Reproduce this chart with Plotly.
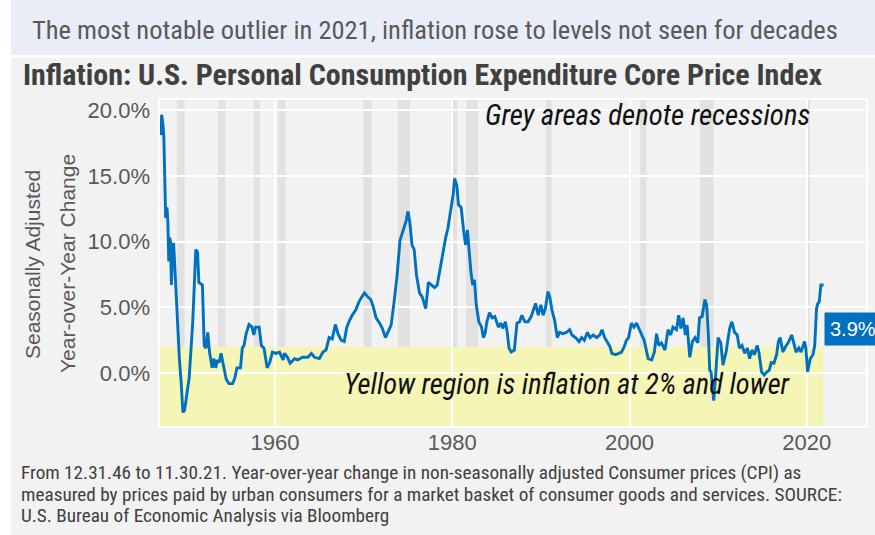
import plotly.graph_objects as go

# ---------------- data ----------------
years = [
    1947.1, 1947.2, 1947.35, 1947.45, 1947.65, 1947.8, 1947.9, 1948.0, 1948.1, 1948.2,
    1948.3, 1948.4, 1948.55, 1948.8, 1949.0, 1949.1, 1949.2, 1949.4, 1949.6, 1949.8,
    1949.95, 1950.1, 1950.3, 1950.55, 1950.7, 1950.9, 1951.05, 1951.25, 1951.4, 1951.8,
    1952.0, 1952.2, 1952.4, 1952.6, 1952.9, 1953.1, 1953.3, 1953.5, 1953.7, 1953.9,
    1954.2, 1954.5, 1954.8, 1955.2, 1955.45, 1955.7, 1956.1, 1956.3, 1956.5, 1956.7,
    1957.05, 1957.4, 1957.6, 1957.8, 1958.2, 1958.45, 1958.75, 1959.1, 1959.4, 1959.7,
    1960.1, 1960.5, 1960.9, 1961.05, 1961.4, 1961.7, 1962.2, 1962.55, 1963.1, 1963.7,
    1964.1, 1964.45, 1965.0, 1965.4, 1965.75, 1966.1, 1966.45, 1966.8, 1967.1, 1967.45,
    1967.8, 1968.1, 1968.4, 1968.7, 1969.1, 1969.45, 1969.8, 1970.1, 1970.45, 1970.8,
    1971.1, 1971.4, 1971.8, 1972.1, 1972.45, 1972.7, 1973.1, 1973.5, 1973.75, 1974.1,
    1974.5, 1974.8, 1975.0, 1975.2, 1975.45, 1975.7, 1975.95, 1976.3, 1976.6, 1976.8,
    1977.0, 1977.3, 1977.7, 1978.0, 1978.3, 1978.55, 1978.9, 1979.25, 1979.5, 1979.8,
    1980.1, 1980.25, 1980.5, 1980.7, 1981.0, 1981.3, 1981.5, 1981.7, 1981.9, 1982.1,
    1982.3, 1982.5, 1982.7, 1983.0, 1983.3, 1983.5, 1983.7, 1983.9, 1984.2, 1984.5,
    1984.8, 1985.2, 1985.5, 1985.7, 1986.0, 1986.2, 1986.4, 1986.65, 1987.0, 1987.3,
    1987.6, 1987.85, 1988.2, 1988.55, 1988.9, 1989.4, 1989.7, 1990.0, 1990.25, 1990.5,
    1990.8, 1991.0, 1991.25, 1991.55, 1991.85, 1992.1, 1992.5, 1992.9, 1993.25, 1993.5,
    1993.9, 1994.3, 1994.6, 1994.9, 1995.25, 1995.55, 1995.9, 1996.3, 1996.65, 1996.9,
    1997.2, 1997.5, 1997.8, 1998.0, 1998.4, 1998.8, 1999.1, 1999.4, 1999.65, 1999.9,
    2000.2, 2000.5, 2000.8, 2001.05, 2001.35, 2001.65, 2002.1, 2002.5, 2002.8, 2003.05,
    2003.3, 2003.6, 2004.0, 2004.35, 2004.65, 2004.9, 2005.3, 2005.55, 2005.8, 2006.05,
    2006.3, 2006.5, 2006.8, 2007.1, 2007.4, 2007.7, 2007.9, 2008.2, 2008.5, 2008.7,
    2008.9, 2009.05, 2009.2, 2009.5, 2009.7, 2010.0, 2010.3, 2010.55, 2010.9, 2011.3,
    2011.55, 2011.85, 2012.15, 2012.4, 2012.7, 2013.0, 2013.3, 2013.55, 2013.8, 2014.1,
    2014.4, 2014.6, 2014.9, 2015.2, 2015.5, 2015.75, 2016.0, 2016.3, 2016.6, 2016.8,
    2017.0, 2017.3, 2017.6, 2017.9, 2018.3, 2018.5, 2018.8, 2019.1, 2019.35, 2019.75,
    2019.9, 2020.1, 2020.4, 2020.7, 2020.9, 2021.1, 2021.25, 2021.4, 2021.6, 2021.9,
]
core_pce_yoy = [
    18.1, 19.65, 18.9, 17.9, 11.8, 12.6, 11.5, 8.5, 10.3, 10.0,
    6.7, 9.0, 9.9, 6.5, 3.9, 1.6, 1.1, -0.7, -3.0, -2.8,
    -1.9, -1.3, -0.4, 2.1, 3.8, 6.9, 9.4, 9.2, 6.9, 6.7,
    2.1, 1.9, 3.1, 1.6, 0.4, 1.1, 0.4, 1.0, 0.8, 1.5,
    0.6, -0.5, -0.8, -0.8, -0.4, 0.4, 0.4, 1.9, 2.1, 2.9,
    3.7, 3.5, 2.9, 3.5, 3.5, 2.1, 1.9, 0.4, 0.8, 1.6,
    1.5, 1.6, 1.0, 1.5, 1.2, 0.75, 1.1, 1.0, 1.2, 1.2,
    1.5, 1.2, 1.1, 1.6, 1.75, 2.7, 2.6, 3.7, 3.0, 2.5,
    2.4, 3.5, 4.0, 4.4, 4.8, 5.4, 5.8, 6.1, 5.8, 5.6,
    5.0, 4.2, 3.8, 3.4, 2.7, 3.1, 3.65, 5.8, 7.3, 10.1,
    11.0, 11.6, 12.3, 11.5, 9.75, 9.4, 7.5, 6.1, 5.8, 5.4,
    4.9, 6.9, 6.7, 6.5, 6.7, 7.7, 9.0, 10.3, 11.0, 12.2,
    13.6, 14.8, 14.3, 12.8, 12.6, 10.7, 9.75, 10.9, 9.0, 7.7,
    6.7, 7.1, 5.2, 3.9, 3.5, 2.7, 3.0, 3.9, 4.6, 4.2,
    4.3, 3.5, 3.8, 3.4, 3.9, 3.1, 1.9, 1.6, 1.75, 3.8,
    3.9, 4.4, 3.9, 3.9, 4.3, 5.3, 4.4, 5.2, 4.4, 4.9,
    6.2, 5.8, 4.8, 4.0, 2.7, 3.1, 3.0, 3.1, 3.3, 2.9,
    2.7, 2.4, 2.7, 2.5, 3.1, 2.7, 2.9, 2.7, 2.9, 3.3,
    2.7, 2.4, 2.0, 1.5, 1.4, 1.5, 1.6, 2.0, 2.5, 2.7,
    3.8, 3.5, 3.8, 3.4, 3.0, 2.5, 1.1, 1.0, 1.6, 3.0,
    2.1, 2.3, 1.75, 3.3, 2.9, 3.5, 3.3, 4.4, 3.4, 4.2,
    2.9, 3.65, 1.2, 2.4, 2.7, 2.3, 4.2, 4.3, 5.6, 5.2,
    2.9, 0.2, 0.1, -2.1, -0.4, 2.7, 2.3, 0.6, 1.6, 3.4,
    3.9, 3.1, 2.9, 1.9, 2.1, 1.5, 1.9, 1.1, 1.75, 1.4,
    2.1, 1.6, 0.1, -0.15, 0.1, 0.2, 0.8, 0.75, 1.4, 2.4,
    2.7, 1.6, 2.0, 2.3, 2.9, 2.4, 1.6, 1.9, 1.6, 2.4,
    1.9, 0.1, 1.1, 1.4, 2.1, 4.9, 5.3, 5.4, 6.7, 6.7,
]

recession_starts = [1948.9, 1953.55, 1957.6, 1960.3, 1969.95, 1973.85, 1980.0, 1981.55,
                    1990.55, 2001.2, 2007.95, 2020.1]
recession_ends = [1949.8, 1954.4, 1958.3, 1961.15, 1970.9, 1975.2, 1980.55, 1982.9,
                  1991.2, 2001.9, 2009.5, 2020.35]

yellow_threshold = 2.0
x_ticks = [1960, 1980, 2000, 2020]
y_ticks = [0, 5, 10, 15, 20]
y_tick_labels = ["0.0%", "5.0%", "10.0%", "15.0%", "20.0%"]
last_label = "3.9%"
last_label_y = 3.35

subtitle = "The most notable outlier in 2021, inflation rose to levels not seen for decades"
title = "Inflation: U.S. Personal Consumption Expenditure Core Price Index"
y_title_1 = "Seasonally Adjusted"
y_title_2 = "Year-over-Year Change"
note_grey = "Grey areas denote recessions"
note_yellow = "Yellow region is inflation at 2% and lower"
footer_lines = [
    "From 12.31.46 to 11.30.21. Year-over-year change in non-seasonally adjusted Consumer prices (CPI) as",
    "measured by prices paid by urban consumers for a market basket of consumer goods and services. SOURCE:",
    "U.S. Bureau of Economic Analysis via Bloomberg",
]

# ---------------- layout geometry ----------------
W, H = 875, 535
ML, MR, MT, MB = 159, 8, 99, 108
PW, PH = W - ML - MR, H - MT - MB


def px(x):
    return (x - ML) / PW


def py(y):
    return (H - MB - y) / PH


X_RANGE = [1946.9, 2026.8]
Y_RANGE = [-4.1, 20.85]

COND = "Roboto Condensed, Roboto, Liberation Sans, sans-serif"
REG = "Liberation Sans, Arial, sans-serif"
GREY_TXT = "#595959"
BLUE = "#0070c0"

fig = go.Figure()
fig.add_trace(go.Scatter(
    x=years, y=core_pce_yoy, mode="lines",
    line=dict(color=BLUE, width=2.9), hoverinfo="skip", showlegend=False,
))

shapes = []
# page backgrounds
shapes.append(dict(type="rect", xref="paper", yref="paper", layer="below",
                   x0=px(11), x1=px(W + 5), y0=py(-5), y1=py(55),
                   fillcolor="#e9edf7", line=dict(width=0)))
shapes.append(dict(type="rect", xref="paper", yref="paper", layer="below",
                   x0=px(11), x1=px(W + 5), y0=py(58), y1=py(H + 5),
                   fillcolor="#f2f2f2", line=dict(width=0)))
# yellow region
shapes.append(dict(type="rect", xref="x", yref="y", layer="below",
                   x0=X_RANGE[0], x1=years[-1], y0=Y_RANGE[0], y1=yellow_threshold,
                   fillcolor="#f5f5b6", line=dict(width=0)))
# recessions
for s, e in zip(recession_starts, recession_ends):
    shapes.append(dict(type="rect", xref="x", yref="paper", layer="below",
                       x0=s, x1=e, y0=0, y1=1,
                       fillcolor="rgba(0,0,0,0.065)", line=dict(width=0)))
# plot border
shapes.append(dict(type="rect", xref="paper", yref="paper", layer="above",
                   x0=0, x1=1, y0=0, y1=1,
                   fillcolor="rgba(0,0,0,0)", line=dict(color="white", width=2)))

annotations = [
    dict(text=subtitle, xref="paper", yref="paper", x=px(30), y=py(30),
         xanchor="left", yanchor="middle", showarrow=False,
         font=dict(family=COND, size=26.5, color=GREY_TXT)),
    dict(text="<b>" + title + "</b>", xref="paper", yref="paper", x=px(21), y=py(75),
         xanchor="left", yanchor="middle", showarrow=False,
         font=dict(family=COND, size=30, color="#404040")),
    dict(text=y_title_1, xref="paper", yref="paper", x=px(32), y=py(264),
         xanchor="center", yanchor="middle", textangle=-90, showarrow=False,
         font=dict(family=REG, size=21, color=GREY_TXT)),
    dict(text=y_title_2, xref="paper", yref="paper", x=px(67), y=py(264),
         xanchor="center", yanchor="middle", textangle=-90, showarrow=False,
         font=dict(family=REG, size=21, color=GREY_TXT)),
    dict(text="<i>" + note_grey + "</i>", xref="paper", yref="paper", x=px(812), y=py(115),
         xanchor="right", yanchor="middle", showarrow=False,
         font=dict(family=COND, size=28.8, color="#111111")),
    dict(text="<i>" + note_yellow + "</i>", xref="paper", yref="paper", x=px(567), y=py(384),
         xanchor="center", yanchor="middle", showarrow=False,
         font=dict(family=COND, size=28.5, color="#111111")),
    dict(text=last_label, xref="paper", yref="y", x=px(824), y=last_label_y,
         xanchor="left", yanchor="middle", showarrow=False,
         bgcolor=BLUE, borderpad=5,
         font=dict(family=REG, size=20, color="white")),
]
for line, yc in zip(footer_lines, [472, 494, 515]):
    annotations.append(dict(text=line, xref="paper", yref="paper", x=px(19), y=py(yc),
                            xanchor="left", yanchor="middle", align="left", showarrow=False,
                            font=dict(family=COND, size=19.2, color="#404040")))

fig.update_layout(
    width=W, height=H,
    margin=dict(l=ML, r=MR, t=MT, b=MB, pad=0),
    paper_bgcolor="white", plot_bgcolor="#f2f2f2",
    shapes=shapes, annotations=annotations,
    showlegend=False,
    xaxis=dict(range=X_RANGE, tickvals=x_ticks, showgrid=True, gridcolor="white",
               gridwidth=1.5, zeroline=False, showline=False, ticks="",
               tickfont=dict(family=REG, size=22, color=GREY_TXT), ticklabelstandoff=0),
    yaxis=dict(range=Y_RANGE, tickvals=y_ticks, ticktext=y_tick_labels, showgrid=True,
               gridcolor="white", gridwidth=1.5, zeroline=False, showline=False, ticks="",
               tickfont=dict(family=REG, size=22, color=GREY_TXT), ticklabelstandoff=8),
)

fig.write_html("out.html", config={"displayModeBar": False},
               post_script="document.body.style.margin='0';document.body.style.overflow='hidden';")
